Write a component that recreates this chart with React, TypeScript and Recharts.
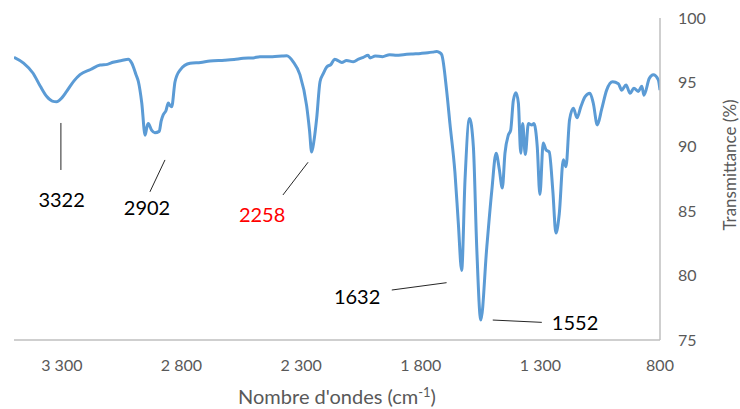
import React from 'react';
import { LineChart, Line, XAxis, YAxis, ReferenceLine, ReferenceDot } from 'recharts';

// spectre IR (cm-1 / %T)
const wavenumbers = [
  3500, 3460, 3421, 3390, 3363, 3340, 3322, 3300, 3280, 3250, 3224, 3180, 3140, 3110, 3086, 3050,
  3022, 3008, 2990, 2980, 2966, 2952, 2945, 2939, 2925, 2911, 2893, 2885, 2876, 2865, 2855, 2848,
  2841, 2827, 2806, 2764, 2720, 2681, 2620, 2580, 2542, 2500, 2472, 2420, 2380, 2360, 2333, 2305,
  2277, 2265, 2256, 2246, 2235, 2221, 2207, 2193, 2175, 2160, 2151, 2130, 2110, 2082, 2060, 2040,
  2020, 2012, 1990, 1960, 1930, 1900, 1873, 1840, 1800, 1770, 1750, 1733, 1720, 1712, 1692, 1678,
  1657, 1643, 1629, 1615, 1596, 1580, 1566, 1549, 1524, 1503, 1485, 1472, 1459, 1448, 1434, 1424,
  1413, 1402, 1392, 1382, 1374, 1363, 1350, 1336, 1327, 1313, 1302, 1288, 1276, 1263, 1248, 1235,
  1221, 1204, 1193, 1178, 1162, 1147, 1131, 1113, 1093, 1079, 1062, 1044, 1023, 998, 974, 960,
  942, 925, 909, 891, 876, 867, 845, 828, 807, 800,
];
const transmittance = [
  96.95, 96.5, 95.73, 94.7, 93.9, 93.55, 93.5, 93.8, 94.3, 95.1, 95.6, 96.0, 96.35, 96.4, 96.56, 96.7,
  96.8, 96.5, 95.6, 95.05, 93.4, 90.9, 91.5, 91.8, 91.3, 91.1, 91.2, 92.0, 92.5, 92.8, 93.4, 93.2,
  93.1, 95.05, 95.96, 96.48, 96.55, 96.66, 96.72, 96.78, 96.87, 96.9, 97.0, 97.0, 97.05, 97.07, 96.6, 95.6,
  93.2, 91.3, 89.6, 90.5, 92.2, 95.05, 95.7, 96.2, 96.4, 96.8, 96.74, 96.55, 96.7, 96.6, 96.8, 96.95,
  97.1, 96.9, 97.05, 97.0, 97.15, 97.1, 97.15, 97.2, 97.25, 97.3, 97.35, 97.4, 97.3, 97.13, 94.4, 91.8,
  88.0, 84.1, 80.4, 87.4, 92.2, 90.0, 82.2, 76.55, 82.2, 86.6, 89.5, 88.3, 86.8, 89.5, 90.9, 91.3,
  93.6, 94.2, 93.4, 89.5, 91.8, 89.4, 91.8, 91.7, 91.8, 90.0, 86.3, 90.3, 89.75, 89.6, 86.6, 83.3,
  84.8, 89.0, 88.45, 92.1, 93.0, 92.25, 93.1, 93.9, 94.15, 93.4, 91.7, 92.9, 94.4, 95.05, 94.9, 94.4,
  94.8, 94.15, 94.55, 94.3, 94.7, 94.0, 95.3, 95.6, 95.2, 94.4,
];

const xTicks = [3300, 2800, 2300, 1800, 1300, 800];
const yTicks = [75, 80, 85, 90, 95, 100];

// pics annotés : texte, position du texte, segment de rappel
const peakLabels = ['3322', '2902', '2258', '1632', '1552'];
const peakLabelX = [3301, 2944, 2463, 2066, 1155];
const peakLabelY = [85.9, 85.25, 84.7, 78.36, 76.3];
const peakLineFrom = [
  [3304, 91.85],
  [2869, 88.98],
  [2271, 88.8],
  [1692, 79.45],
  [1499, 76.55],
];
const peakLineTo = [
  [3304, 88.2],
  [2932, 86.5],
  [2376, 86.26],
  [1921, 78.88],
  [1294, 76.37],
];
const peakColors = ['#000000', '#000000', '#FF0000', '#000000', '#000000'];

const data = wavenumbers.map((wn, i) => ({ wn, t: transmittance[i] }));

const FONT = 'Lato, "Open Sans", sans-serif';
const GREY = '#595959';

const fmt = (v: number) =>
  v >= 1000 ? `${Math.floor(v / 1000)} ${String(v % 1000).padStart(3, '0')}` : String(v);

const XTitle = (props: any) => {
  const { viewBox } = props;
  return (
    <text
      x={viewBox.x + viewBox.width / 2}
      y={viewBox.y + 64}
      textAnchor="middle"
      fill={GREY}
      fontSize={20}
      fontFamily={FONT}
    >
      Nombre d'ondes (cm
      <tspan dy={-7} fontSize={13}>-1</tspan>
      <tspan dy={7}>)</tspan>
    </text>
  );
};

const YTitle = (props: any) => {
  const { viewBox } = props;
  const cx = viewBox.x + 69;
  const cy = 165;
  return (
    <text
      x={cx}
      y={cy}
      textAnchor="middle"
      dominantBaseline="central"
      transform={`rotate(-90 ${cx} ${cy})`}
      fill={GREY}
      fontSize={17}
      fontFamily={FONT}
    >
      Transmittance (%)
    </text>
  );
};

export default function App() {
  return (
    <div style={{ position: 'absolute', left: 0, top: 0, background: '#fff' }}>
      <LineChart
        width={740}
        height={409}
        data={data}
        margin={{ top: 18, right: 0, bottom: 0, left: 14 }}
      >
        <XAxis
          dataKey="wn"
          type="number"
          domain={[800, 3500]}
          reversed
          ticks={xTicks}
          tickFormatter={fmt}
          allowDataOverflow
          height={69}
          tickSize={0}
          tickMargin={20}
          axisLine={{ stroke: '#BFBFBF', strokeWidth: 1.5 }}
          tickLine={false}
          tick={{ fill: GREY, fontSize: 16, fontFamily: FONT }}
          label={{ content: XTitle }}
        />
        <YAxis
          orientation="right"
          type="number"
          domain={[75, 100]}
          ticks={yTicks}
          width={80}
          tickSize={0}
          tickMargin={18}
          axisLine={{ stroke: '#BFBFBF', strokeWidth: 1.5 }}
          tickLine={false}
          tick={{ fill: GREY, fontSize: 16, fontFamily: FONT, textAnchor: 'start' }}
          label={{ content: YTitle }}
        />
        {peakLabels.map((lab, i) => (
          <ReferenceLine
            key={`l${lab}`}
            segment={[
              { x: peakLineFrom[i][0], y: peakLineFrom[i][1] },
              { x: peakLineTo[i][0], y: peakLineTo[i][1] },
            ]}
            stroke="#262626"
            strokeWidth={1}
          />
        ))}
        <Line
          type="monotone"
          dataKey="t"
          stroke="#5B9BD5"
          strokeWidth={3}
          dot={false}
          isAnimationActive={false}
        />
        {peakLabels.map((lab, i) => (
          <ReferenceDot
            key={`d${lab}`}
            x={peakLabelX[i]}
            y={peakLabelY[i]}
            r={0}
            fill="none"
            stroke="none"
            label={{
              value: lab,
              position: 'center',
              fill: peakColors[i],
              fontSize: 20,
              fontFamily: FONT,
            }}
          />
        ))}
      </LineChart>
    </div>
  );
}
